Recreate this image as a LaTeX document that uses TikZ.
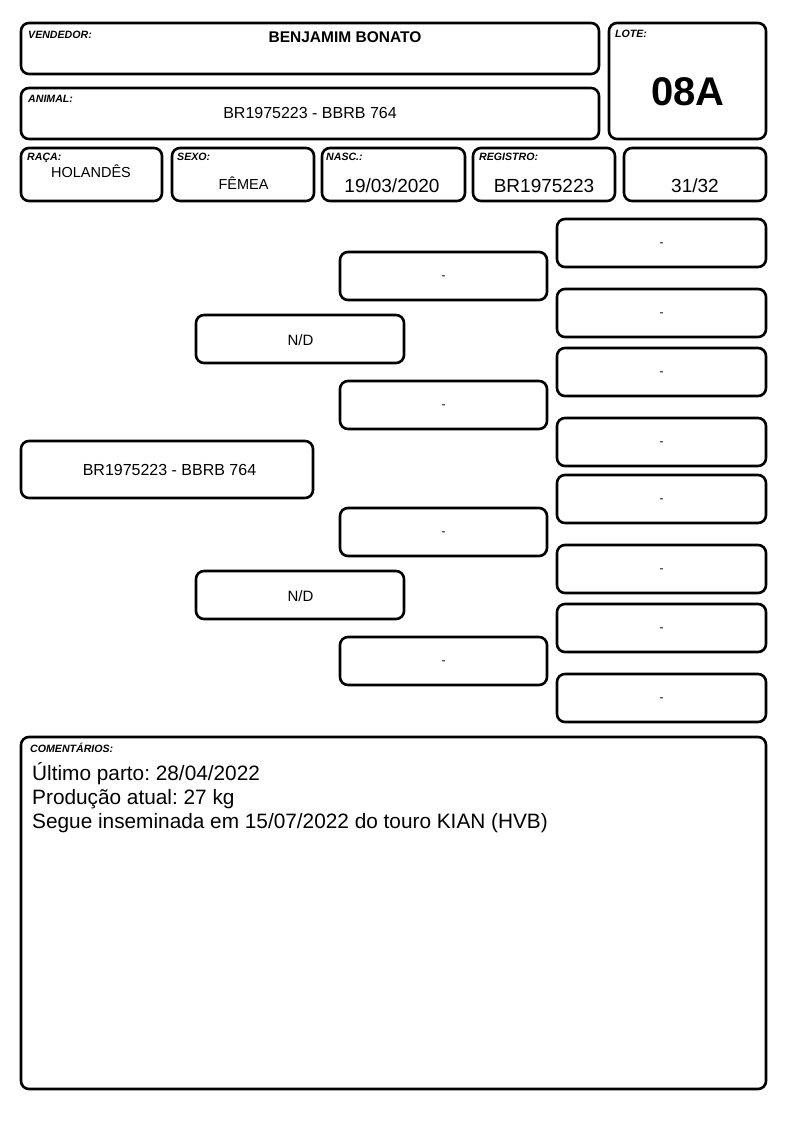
\documentclass[tikz,border=0pt]{standalone}
\usepackage{fontspec}
\setmainfont{Liberation Sans}
\frenchspacing
\begin{document}
\begin{tikzpicture}[x=1pt,y=-1pt,
  box/.style={draw, line width=2.6pt, rounded corners=8pt, inner sep=0pt},
  lbl/.style={font=\fontsize{10.6}{11}\selectfont\bfseries\itshape, anchor=base west, inner sep=0pt},
  val/.style={anchor=base, inner sep=0pt},
  rowval/.style={val, font=\fontsize{19}{20}\selectfont},
  dashtxt/.style={val, font=\fontsize{12}{13}\selectfont},
  pedbox/.style={box, minimum width=#1, minimum height=48pt},
  comtxt/.style={anchor=base west, inner sep=0pt, font=\fontsize{20.8}{24.3}\selectfont},
]
\useasboundingbox (0,0) rectangle (794,1123);
% header boxes
\node[box, minimum width=578pt, minimum height=51pt] (vend) at (310,48.5) {};
\node[box, minimum width=578pt, minimum height=51pt] (anim) at (310,113.5) {};
\node[box, minimum width=157pt, minimum height=116pt] (lote) at (687.5,81) {};
\node[box, minimum width=141pt, minimum height=53pt] (raca) at (91.5,174.5) {};
\node[box, minimum width=142pt, minimum height=53pt] (sexo) at (243,174.5) {};
\node[box, minimum width=143pt, minimum height=53pt] (nasc) at (393.5,174.5) {};
\node[box, minimum width=142pt, minimum height=53pt] (reg) at (544,174.5) {};
\node[box, minimum width=142pt, minimum height=53pt] (frac) at (695,174.5) {};
% labels
\node[lbl] (lvend) at (28,39) {VENDEDOR:};
\node[val, font=\fontsize{15.5}{16}\selectfont\bfseries] (tvend) at (345,43) {BENJAMIM BONATO};
\node[lbl] (lanim) at (28,103) {ANIMAL:};
\node[val, font=\fontsize{16}{17}\selectfont] (tanim) at (310,118.7) {BR1975223 - BBRB 764};
\node[lbl] (llote) at (615,38) {LOTE:};
\node[val, font=\fontsize{40}{42}\selectfont\bfseries] (tlote) at (688,105.3) {08A};
\node[lbl] (lraca) at (27,160.7) {RAÇA:};
\node[val, font=\fontsize{14.5}{15}\selectfont] (traca) at (91,178) {HOLANDÊS};
\node[lbl] (lsexo) at (177,161) {SEXO:};
\node[val, font=\fontsize{14.5}{15}\selectfont] (tsexo) at (243.5,189.7) {FÊMEA};
\node[lbl] (lnasc) at (326,161) {NASC.:};
\node[rowval] (tnasc) at (392,193) {19/03/2020};
\node[lbl] (lreg) at (479,161) {REGISTRO:};
\node[rowval] (treg) at (544,193) {BR1975223};
\node[rowval] (tfrac) at (695,193) {31/32};
% pedigree
\node[box, minimum width=292pt, minimum height=57pt] (p0) at (167,469.5) {};
\node[val, font=\fontsize{16}{17}\selectfont] (tp0) at (169.5,475.5) {BR1975223 - BBRB 764};
\node[pedbox=208pt] (nd1) at (300,339) {};
\node[pedbox=208pt] (nd2) at (300,595) {};
\node[val, font=\fontsize{15}{16}\selectfont] (tnd1) at (300.5,345) {N/D};
\node[val, font=\fontsize{15}{16}\selectfont] (tnd2) at (300.5,601) {N/D};
\foreach \n/\y in {1/276,2/405,3/532,4/661}{
  \node[pedbox=207pt] (m\n) at (443.5,\y) {};
  \node[dashtxt] (tm\n) at (443.5,\y+3.5) {-};
}
\foreach \n/\y in {1/243,2/313,3/372,4/442,5/499,6/569,7/628,8/698}{
  \node[pedbox=209pt] (r\n) at (661.5,\y) {};
  \node[dashtxt] (tr\n) at (661.5,\y+3.5) {-};
}
% comments
\node[box, minimum width=745pt, minimum height=352pt] (com) at (393.5,913) {};
\node[lbl] (lcom) at (30,752.7) {COMENTÁRIOS:};
\node[comtxt] (tcom1) at (32,780) {Último parto: 28/04/2022};
\node[comtxt] (tcom2) at (32,804.3) {Produção atual: 27 kg};
\node[comtxt] (tcom3) at (32,828.6) {Segue inseminada em 15/07/2022 do touro KIAN (HVB)};
\end{tikzpicture}
\end{document}
